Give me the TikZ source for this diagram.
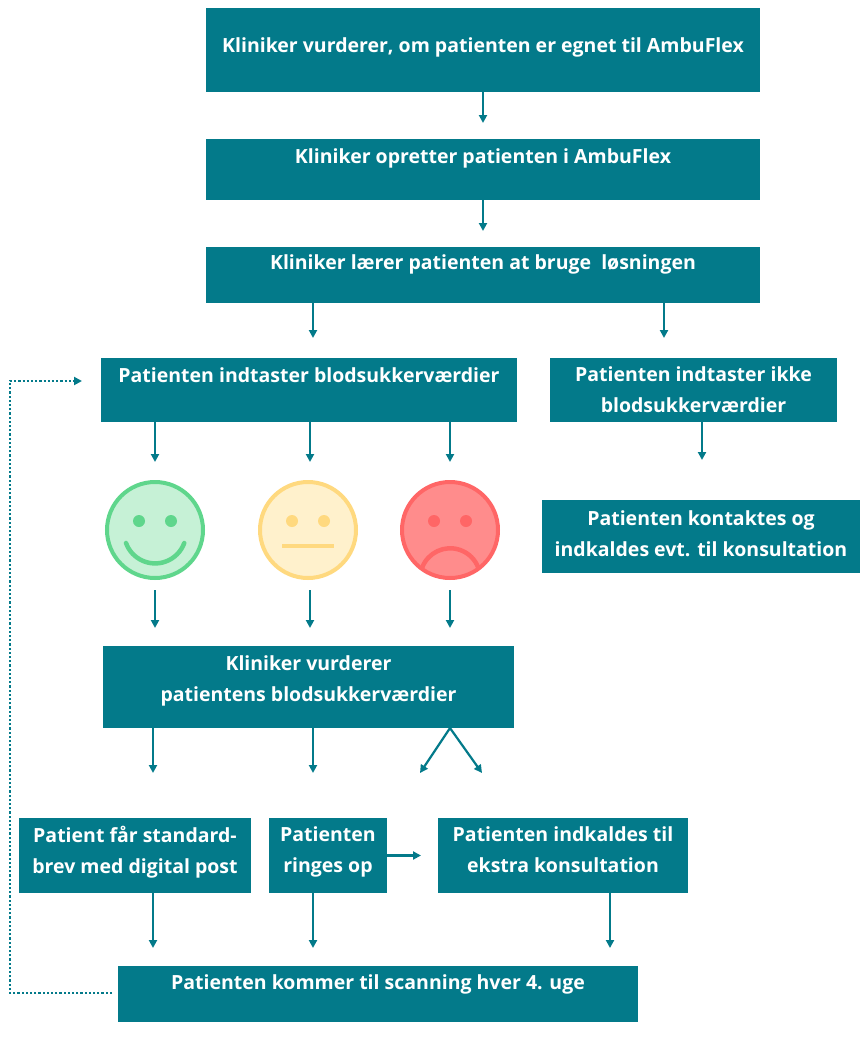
\documentclass[tikz,border=0pt]{standalone}
\usepackage{fontspec}
\setmainfont{Open Sans}
\usetikzlibrary{arrows.meta}
\definecolor{teal}{HTML}{037A8A}
\definecolor{gfill}{HTML}{C6F1D6}\definecolor{gline}{HTML}{5FD68C}
\definecolor{yfill}{HTML}{FFF1CC}\definecolor{yline}{HTML}{FFD97F}
\definecolor{rfill}{HTML}{FF8C8C}\definecolor{rline}{HTML}{FF6666}
\tikzset{
  box/.style={fill=teal,draw=none,inner sep=0pt},
  txt/.style={text=white,font=\fontsize{19.5}{31}\selectfont\bfseries,align=center,inner sep=0pt,anchor=north},
  arr/.style={-{Triangle[length=8pt,width=8pt]},teal,line width=2.2pt},
  face/.style={line width=4pt,circle,minimum size=96pt,inner sep=0pt},
}
\begin{document}
\begin{tikzpicture}[x=1pt,y=-1pt]
\useasboundingbox (0,0) rectangle (864,1044);
% boxes
\node[box,minimum width=554pt,minimum height=84pt] (b1) at (483,50) {};
\node[box,minimum width=554pt,minimum height=61pt] (b2) at (483,169.5) {};
\node[box,minimum width=554pt,minimum height=56pt] (b3) at (483,275) {};
\node[box,minimum width=416pt,minimum height=64pt] (b4) at (309,390) {};
\node[box,minimum width=287pt,minimum height=64pt] (b5) at (693.5,390) {};
\node[box,minimum width=318pt,minimum height=73pt] (b6) at (701,536.5) {};
\node[box,minimum width=411pt,minimum height=82pt] (b7) at (308.5,687) {};
\node[box,minimum width=232pt,minimum height=75pt] (b8) at (135,855.5) {};
\node[box,minimum width=118pt,minimum height=75pt] (b9) at (328,855.5) {};
\node[box,minimum width=250pt,minimum height=75pt] (b10) at (563,855.5) {};
\node[box,minimum width=520pt,minimum height=56pt] (b11) at (378,994) {};
% texts
\node[txt] at (483,37) {Kliniker vurderer, om patienten er egnet til AmbuFlex};
\node[txt] at (483,148) {Kliniker opretter patienten i AmbuFlex};
\node[txt] at (483,254) {Kliniker lærer patienten at bruge\ \ løsningen};
\node[txt] at (309,367) {Patienten indtaster blodsukkerværdier};
\node[txt] at (693.5,366) {Patienten indtaster ikke\\blodsukkerværdier};
\node[txt] at (701,510) {Patienten kontaktes og\\indkaldes evt. til konsultation};
\node[txt] at (308.5,655) {Kliniker vurderer\\patientens blodsukkerværdier};
\node[txt] at (135,826) {Patient får standard-\\brev med digital post};
\node[txt] at (328,826) {Patienten\\ringes op};
\node[txt] at (563,826) {Patienten indkaldes til\\ekstra konsultation};
\node[txt] at (378,974) {Patienten kommer til scanning hver 4. uge};
% faces
\node[face,draw=gline,fill=gfill] (f1) at (155,530) {};
\node[face,draw=yline,fill=yfill] (f2) at (308,530) {};
\node[face,draw=rline,fill=rfill] (f3) at (450,530) {};
\fill[gline] (139,521) circle (6pt) (171,521) circle (6pt);
\draw[gline,line width=4.5pt,line cap=round] (126,543) arc[start angle=200,end angle=340,radius=31pt];
\fill[yline] (292,521) circle (6pt) (324,521) circle (6pt);
\draw[yline,line width=4.5pt] (282,546) -- (334,546);
\fill[rline] (434,521) circle (6pt) (466,521) circle (6pt);
\draw[rline,line width=4.5pt,line cap=round] (422,568) arc[start angle=160,end angle=20,radius=30pt];
% arrows
\coordinate (c1) at (313,338); \coordinate (c2) at (664,338);
\draw[arr] (483,92) -- (483,123);
\draw[arr] (483,200) -- (483,231);
\draw[arr] (313,303) -- (c1);
\draw[arr] (664,303) -- (c2);
\foreach \x/\f in {155/f1,310/f2,450/f3}{
  \draw[arr] (\x,422) -- (\x,462);
  \draw[arr] (\x,590) -- (\x,628);
}
\draw[arr] (702,422) -- (702,460);
\coordinate (d1) at (153,773); \coordinate (d2) at (313,773);
\coordinate (d3) at (420,773); \coordinate (d4) at (482,773);
\draw[arr] (153,728) -- (d1);
\draw[arr] (313,728) -- (d2);
\draw[arr] (450,728) -- (d3);
\draw[arr] (450,728) -- (d4);
\draw[arr] (b9.east) -- (421,855.5);
\draw[arr] (153,893) -- (153,948);
\draw[arr] (313,893) -- (313,948);
\draw[arr] (610,893) -- (610,948);
\coordinate (l1) at (10,993); \coordinate (l2) at (10,381); \coordinate (l3) at (82,381);
\draw[arr,dotted,line width=2.2pt] (112,993) -- (l1) -- (l2) -- (l3);
\end{tikzpicture}
\end{document}
